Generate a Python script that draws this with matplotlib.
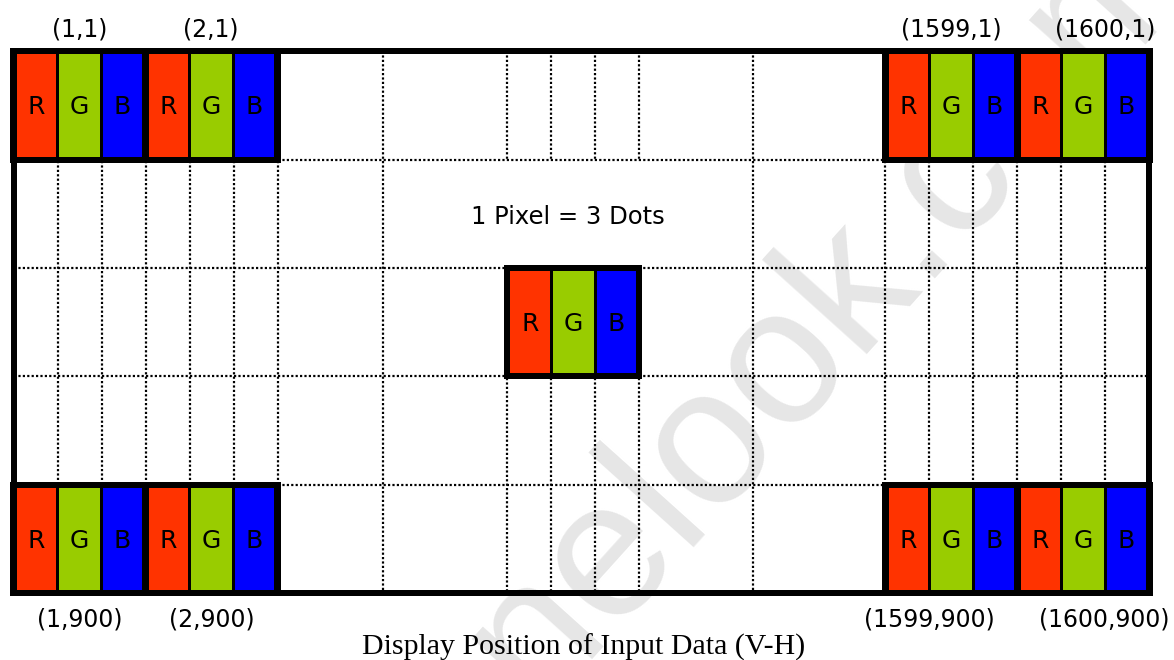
import matplotlib
matplotlib.use("Agg")
import matplotlib.pyplot as plt
from matplotlib.patches import Rectangle

# grid of the panel (pixel coordinates of the picture)
col_x = [13.5, 57.5, 101.5, 145.5, 189.5, 233.5, 277.5, 383, 507, 551, 595,
         639, 753, 885, 929, 973, 1017, 1061, 1105, 1149]
row_y = [50.5, 160, 268, 376, 484.5, 593]

dot_names = ["R", "G", "B"]
dot_colors = ["#ff3300", "#99cc00", "#0000ff"]

# corner pixels sit at these first column indices, in the top and bottom rows
corner_cols = [0, 3, 13, 16]
top_labels = ["(1,1)", "(2,1)", "(1599,1)", "(1600,1)"]
bottom_labels = ["(1,900)", "(2,900)", "(1599,900)", "(1600,900)"]
top_label_x = [79.5, 211, 951, 1105]
bottom_label_x = [79.5, 211.5, 929, 1104]
centre_col, centre_row = 8, 2

title = "Display Position of Input Data (V-H)"
note = "1 Pixel = 3 Dots"
watermark = "panelook.com"

W, H = 1174, 660
fig = plt.figure(figsize=(W / 100, H / 100), dpi=100)
ax = fig.add_axes([0, 0, 1, 1])
ax.set_xlim(0, W)
ax.set_ylim(H, 0)
ax.axis("off")

px = 72 / 100  # one picture pixel in points
lab_font = "DejaVu Sans"

# watermark (faint, partly outside the picture)
ax.text(392, 868, watermark, rotation=48, rotation_mode="anchor",
        ha="left", va="baseline", fontsize=140, color="#e6e6e6",
        family="Liberation Sans", zorder=0, clip_on=True)

dot = dict(color="black", lw=2.2 * px, linestyle=(0, (1, 1)), zorder=2)

# horizontal dotted lines
for y in row_y[1:-1]:
    ax.plot([col_x[0], col_x[-1]], [y, y], **dot)

# vertical dotted lines (the ones under the centre pixel skip row 1)
for i, x in enumerate(col_x[1:-1], start=1):
    if 8 <= i <= 11:
        ax.plot([x, x], [row_y[0], row_y[1]], **dot)
        ax.plot([x, x], [row_y[2], row_y[-1]], **dot)
    else:
        ax.plot([x, x], [row_y[0], row_y[-1]], **dot)

# outer frame
ax.add_patch(Rectangle((col_x[0], row_y[0]), col_x[-1] - col_x[0],
                       row_y[-1] - row_y[0], fill=False, ec="black",
                       lw=6 * px, zorder=3))


def draw_pixel(c, r, outer=3.5):
    x0, x1 = col_x[c], col_x[c + 3]
    y0, y1 = row_y[r], row_y[r + 1]
    ax.add_patch(Rectangle((x0 - outer, y0 - 3), x1 - x0 + 2 * outer,
                           y1 - y0 + 6, fc="black", ec="none", zorder=4))
    for k in range(3):
        a, b = col_x[c + k], col_x[c + k + 1]
        a += outer if k == 0 else 1.5
        b -= outer if k == 2 else 1.5
        ax.add_patch(Rectangle((a, y0 + 3), b - a, y1 - y0 - 6,
                               fc=dot_colors[k], ec="none", zorder=5))
        ax.text((a + b) / 2, (y0 + y1) / 2 + 2, dot_names[k], ha="center",
                va="center", fontsize=18, family=lab_font, zorder=6)


for c in corner_cols:
    draw_pixel(c, 0)
    draw_pixel(c, 4)
draw_pixel(centre_col, centre_row, outer=3)

for x, t in zip(top_label_x, top_labels):
    ax.text(x, 30, t, ha="center", va="center", fontsize=17, family=lab_font)
for x, b in zip(bottom_label_x, bottom_labels):
    ax.text(x, 619, b, ha="center", va="center", fontsize=17, family=lab_font)

ax.text(568, 217, note, ha="center", va="center", fontsize=17.5,
        family=lab_font)
ax.text(584, 655, title, ha="center", va="baseline", fontsize=21.5,
        family="Liberation Serif")

fig.savefig("out.png", dpi=100)
